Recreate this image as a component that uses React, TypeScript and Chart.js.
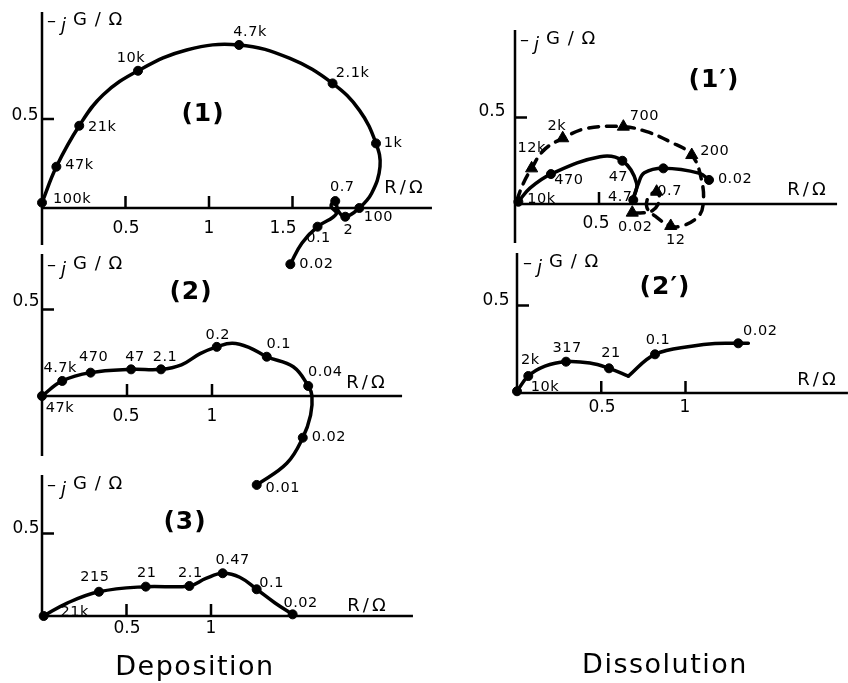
import React, { useEffect, useRef } from "react";
import { Chart, registerables } from "chart.js";

Chart.register(...registerables);

const FONT = '"DejaVu Sans", "Liberation Sans", sans-serif';

// ---------------- DATA (R/Ω on x, −jG/Ω on y) ----------------
// Panel (1) deposition
const P1_LABELS = ["100k", "47k", "21k", "10k", "4.7k", "2.1k", "1k", "100", "2", "0.7", "0.1", "0.02"];
const P1_R = [0, 0.086, 0.223, 0.575, 1.18, 1.74, 2.0, 1.9, 1.816, 1.756, 1.65, 1.487];
const P1_G = [0.03, 0.232, 0.462, 0.771, 0.916, 0.7, 0.363, 0.0, -0.049, 0.039, -0.105, -0.316];
const P1_CURVE_R = [0, 0.086, 0.223, 0.365, 0.575, 0.866, 1.18, 1.485, 1.74, 1.9, 2.0, 2.024, 1.974, 1.9, 1.816, 1.774, 1.756, 1.731, 1.762, 1.65, 1.556, 1.487];
const P1_CURVE_G = [0.03, 0.232, 0.462, 0.635, 0.771, 0.888, 0.916, 0.84, 0.7, 0.55, 0.363, 0.232, 0.083, 0.0, -0.049, -0.017, 0.039, 0.011, -0.034, -0.105, -0.198, -0.316];

// Panel (2) deposition
const P2_LABELS = ["47k", "4.7k", "470", "47", "2.1", "0.2", "0.1", "0.04", "0.02", "0.01"];
const P2_R = [0, 0.119, 0.286, 0.524, 0.7, 1.028, 1.322, 1.566, 1.534, 1.263];
const P2_G = [0, 0.087, 0.135, 0.154, 0.154, 0.284, 0.227, 0.058, -0.241, -0.514];
const P2_CURVE_R = [0, 0.119, 0.286, 0.524, 0.7, 0.82, 0.93, 1.028, 1.12, 1.22, 1.322, 1.478, 1.566, 1.588, 1.58, 1.534, 1.44, 1.263];
const P2_CURVE_G = [0, 0.087, 0.135, 0.154, 0.154, 0.18, 0.245, 0.284, 0.305, 0.28, 0.227, 0.169, 0.058, 0, -0.11, -0.241, -0.389, -0.514];

// Panel (3) deposition
const P3_LABELS = ["21k", "215", "21", "2.1", "0.47", "0.1", "0.02"];
const P3_R = [0.01, 0.337, 0.614, 0.872, 1.069, 1.27, 1.483];
const P3_G = [0, 0.147, 0.178, 0.182, 0.259, 0.162, 0.01];
const P3_CURVE_R = [0.01, 0.146, 0.337, 0.614, 0.872, 0.97, 1.069, 1.17, 1.27, 1.379, 1.483];
const P3_CURVE_G = [0, 0.077, 0.147, 0.178, 0.182, 0.228, 0.259, 0.235, 0.162, 0.079, 0.01];

// Panel (1') dissolution — solid (circles)
const P1S_LABELS = ["10k", "470", "47", "4.7", "", "0.02"];
const P1S_R = [0.02, 0.214, 0.639, 0.704, 0.883, 1.155];
const P1S_G = [0.013, 0.173, 0.25, 0.023, 0.206, 0.139];
const P1S_CURVE_A_R = [0.02, 0.089, 0.214, 0.506, 0.639, 0.724, 0.7];
const P1S_CURVE_A_G = [0.013, 0.092, 0.173, 0.273, 0.25, 0.12, 0.02];
const P1S_CURVE_B_R = [0.7, 0.735, 0.77, 0.883, 1.1, 1.155];
const P1S_CURVE_B_G = [0.02, 0.12, 0.18, 0.206, 0.177, 0.139];

// Panel (1') dissolution — dashed (triangles)
const P1D_LABELS = ["12k", "2k", "700", "200", "12", "0.7", "0.02"];
const P1D_R = [0.099, 0.284, 0.645, 1.052, 0.927, 0.843, 0.698];
const P1D_G = [0.206, 0.38, 0.447, 0.283, -0.127, 0.071, -0.05];
const P1D_CURVE_R = [0.01, 0.05, 0.099, 0.17, 0.284, 0.427, 0.645, 0.784, 0.923, 1.052, 1.11, 1.12, 1.09, 1.0, 0.927, 0.833, 0.785, 0.795, 0.843, 0.86, 0.815, 0.744, 0.698];
const P1D_CURVE_G = [0.02, 0.12, 0.206, 0.31, 0.38, 0.437, 0.447, 0.418, 0.36, 0.283, 0.14, 0.0, -0.073, -0.125, -0.127, -0.069, -0.02, 0.04, 0.071, 0.02, -0.04, -0.052, -0.05];

// Panel (2') dissolution
const P2P_LABELS = ["10k", "2k", "317", "21", "0.1", "0.02"];
const P2P_R = [0, 0.067, 0.291, 0.546, 0.819, 1.313];
const P2P_G = [0.01, 0.097, 0.179, 0.141, 0.221, 0.284];
const P2P_CURVE_A_R = [0, 0.067, 0.166, 0.291, 0.433, 0.546, 0.661];
const P2P_CURVE_A_G = [0.01, 0.097, 0.154, 0.179, 0.171, 0.141, 0.097];
const P2P_CURVE_B_R = [0.661, 0.819, 1.046, 1.175, 1.313, 1.373];
const P2P_CURVE_B_G = [0.097, 0.221, 0.269, 0.283, 0.284, 0.284];

// Tick values
const X_TICKS_1 = [0.5, 1, 1.5];
const X_TICKS_2 = [0.5, 1];
const X_TICKS_1P = [0.5];
const Y_TICKS = [0.5];

// ---------------- LAYOUT (label offsets in px) ----------------
const P1_LBL_OFF = [[30, -3], [23, -1], [23, 1], [-7, -13], [11, -13], [20, -10], [17, 0], [19, 9], [3, 14], [7, -14], [1, 12], [26, 0]];
const P2_LBL_OFF = [[18, 12], [-2, -13], [3, -15], [4, -12], [4, -12], [1, -12], [12, -12], [17, -14], [26, 0], [26, 3]];
const P3_LBL_OFF = [[31, -4], [-4, -15], [1, -13], [1, -13], [10, -13], [15, -6], [8, -11]];
const P1S_LBL_OFF = [[23, -3], [18, 6], [-4, 16], [-13, -3], [0, 0], [26, -1]];
const P1D_LBL_OFF = [[0, -20], [-6, -12], [21, -10], [23, -4], [5, 14], [13, 0], [3, 15]];
const P2P_LBL_OFF = [[28, -4], [2, -16], [1, -13], [2, -15], [3, -14], [22, -12]];

type Pt = { x: number; y: number };
const zip = (r: number[], g: number[]): Pt[] => r.map((x, i) => ({ x, y: g[i] }));

interface SeriesCfg {
  r: number[];
  g: number[];
  labels: string[];
  offsets: number[][];
  curves: { r: number[]; g: number[] }[];
  pointStyle: "circle" | "triangle";
  radius: number;
  dashed?: boolean;
}

interface TextCfg {
  text: string;
  x: number;
  y: number;
}

interface PanelCfg {
  left: number;
  top: number;
  width: number;
  height: number;
  ox: number;
  oy: number;
  sx: number;
  sy: number;
  xAxisEnd: number;
  yAxisTop: number;
  yAxisBottom: number;
  xTicks: number[];
  yTicks: number[];
  tickLabels: TextCfg[];
  yTitle: { x: number; y: number };
  xTitle: { x: number; y: number };
  title: TextCfg;
  caption?: TextCfg;
  series: SeriesCfg[];
}

const PANELS: PanelCfg[] = [
  {
    left: 0, top: 0, width: 440, height: 278, ox: 42, oy: 208, sx: 167, sy: 178,
    xAxisEnd: 2.335, yAxisTop: 1.101, yAxisBottom: -0.208,
    xTicks: X_TICKS_1, yTicks: Y_TICKS,
    tickLabels: [
      { text: "0.5", x: 126, y: 229 }, { text: "1", x: 209, y: 229 },
      { text: "1.5", x: 283, y: 229 }, { text: "0.5", x: 25, y: 116 },
    ],
    yTitle: { x: 46, y: 21 }, xTitle: { x: 405, y: 188 },
    title: { text: "(1)", x: 203, y: 114 },
    series: [
      { r: P1_R, g: P1_G, labels: P1_LABELS, offsets: P1_LBL_OFF, curves: [{ r: P1_CURVE_R, g: P1_CURVE_G }], pointStyle: "circle", radius: 4.5 },
    ],
  },
  {
    left: 0, top: 245, width: 440, height: 250, ox: 42, oy: 396, sx: 170, sy: 173,
    xAxisEnd: 2.118, yAxisTop: 0.821, yAxisBottom: -0.347,
    xTicks: X_TICKS_2, yTicks: Y_TICKS,
    tickLabels: [
      { text: "0.5", x: 126, y: 417 }, { text: "1", x: 212, y: 417 }, { text: "0.5", x: 26, y: 302 },
    ],
    yTitle: { x: 46, y: 265 }, xTitle: { x: 367, y: 383 },
    title: { text: "(2)", x: 191, y: 292 },
    series: [
      { r: P2_R, g: P2_G, labels: P2_LABELS, offsets: P2_LBL_OFF, curves: [{ r: P2_CURVE_R, g: P2_CURVE_G }], pointStyle: "circle", radius: 4.5 },
    ],
  },
  {
    left: 0, top: 465, width: 440, height: 218, ox: 42, oy: 616, sx: 169, sy: 165,
    xAxisEnd: 2.195, yAxisTop: 0.855, yAxisBottom: 0,
    xTicks: X_TICKS_2, yTicks: Y_TICKS,
    tickLabels: [
      { text: "0.5", x: 127, y: 629 }, { text: "1", x: 211, y: 629 }, { text: "0.5", x: 26, y: 529 },
    ],
    yTitle: { x: 46, y: 485 }, xTitle: { x: 368, y: 606 },
    title: { text: "(3)", x: 185, y: 522 },
    caption: { text: "Deposition", x: 195, y: 675 },
    series: [
      { r: P3_R, g: P3_G, labels: P3_LABELS, offsets: P3_LBL_OFF, curves: [{ r: P3_CURVE_R, g: P3_CURVE_G }], pointStyle: "circle", radius: 4.5 },
    ],
  },
  {
    left: 440, top: 0, width: 408, height: 255, ox: 515, oy: 204, sx: 168, sy: 173,
    xAxisEnd: 1.917, yAxisTop: 1.006, yAxisBottom: -0.225,
    xTicks: X_TICKS_1P, yTicks: Y_TICKS,
    tickLabels: [
      { text: "0.5", x: 596, y: 224 }, { text: "0.5", x: 492, y: 112 },
    ],
    yTitle: { x: 519, y: 40 }, xTitle: { x: 808, y: 190 },
    title: { text: "(1′)", x: 714, y: 80 },
    series: [
      {
        r: P1S_R, g: P1S_G, labels: P1S_LABELS, offsets: P1S_LBL_OFF,
        curves: [{ r: P1S_CURVE_A_R, g: P1S_CURVE_A_G }, { r: P1S_CURVE_B_R, g: P1S_CURVE_B_G }],
        pointStyle: "circle", radius: 4.5,
      },
      {
        r: P1D_R, g: P1D_G, labels: P1D_LABELS, offsets: P1D_LBL_OFF,
        curves: [{ r: P1D_CURVE_R, g: P1D_CURVE_G }],
        pointStyle: "triangle", radius: 7, dashed: true,
      },
    ],
  },
  {
    left: 440, top: 245, width: 408, height: 438, ox: 517, oy: 393, sx: 168.5, sy: 175,
    xAxisEnd: 1.964, yAxisTop: 0.8, yAxisBottom: -0.01,
    xTicks: X_TICKS_2, yTicks: Y_TICKS,
    tickLabels: [
      { text: "0.5", x: 602, y: 408 }, { text: "1", x: 685, y: 408 }, { text: "0.5", x: 496, y: 301 },
    ],
    yTitle: { x: 522, y: 263 }, xTitle: { x: 818, y: 380 },
    title: { text: "(2′)", x: 665, y: 287 },
    caption: { text: "Dissolution", x: 665, y: 673 },
    series: [
      {
        r: P2P_R, g: P2P_G, labels: P2P_LABELS, offsets: P2P_LBL_OFF,
        curves: [{ r: P2P_CURVE_A_R, g: P2P_CURVE_A_G }, { r: P2P_CURVE_B_R, g: P2P_CURVE_B_G }],
        pointStyle: "circle", radius: 4.5,
      },
    ],
  },
];

function setSpacing(ctx: any, v: string) {
  try {
    ctx.letterSpacing = v;
  } catch (e) {
    /* ignore */
  }
}

function makePlugin(cfg: PanelCfg) {
  return {
    id: "panelDecor",
    beforeDatasetsDraw(chart: any) {
      const ctx = chart.ctx as CanvasRenderingContext2D;
      const xs = chart.scales.x;
      const ys = chart.scales.y;
      const px = (v: number) => xs.getPixelForValue(v);
      const py = (v: number) => ys.getPixelForValue(v);
      ctx.save();
      ctx.strokeStyle = "#000";
      ctx.fillStyle = "#000";
      ctx.lineWidth = 2.5;
      ctx.beginPath();
      ctx.moveTo(px(0), py(cfg.yAxisTop));
      ctx.lineTo(px(0), py(cfg.yAxisBottom));
      ctx.moveTo(px(0), py(0));
      ctx.lineTo(px(cfg.xAxisEnd), py(0));
      for (const t of cfg.xTicks) {
        ctx.moveTo(px(t), py(0));
        ctx.lineTo(px(t), py(0) - 12);
      }
      for (const t of cfg.yTicks) {
        ctx.moveTo(px(0), py(t));
        ctx.lineTo(px(0) + 12, py(t));
      }
      ctx.stroke();

      const L = cfg.left;
      const T = cfg.top;
      ctx.textBaseline = "middle";
      ctx.textAlign = "center";
      // tick labels
      ctx.font = `17px ${FONT}`;
      setSpacing(ctx, "0px");
      for (const t of cfg.tickLabels) ctx.fillText(t.text, t.x - L, t.y - T);
      // x title
      ctx.font = `18px ${FONT}`;
      setSpacing(ctx, "3px");
      ctx.fillText("R/Ω", cfg.xTitle.x - L, cfg.xTitle.y - T);
      // y title
      ctx.textAlign = "left";
      setSpacing(ctx, "0px");
      const yx = cfg.yTitle.x - L;
      const yy = cfg.yTitle.y - T;
      ctx.fillText("–", yx + 1, yy);
      ctx.font = `italic 18px ${FONT}`;
      ctx.fillText("j", yx + 15, yy + 5);
      ctx.font = `18px ${FONT}`;
      setSpacing(ctx, "1px");
      ctx.fillText("G / Ω", yx + 27, yy - 1);
      // panel title
      ctx.textAlign = "center";
      setSpacing(ctx, "1px");
      ctx.font = `bold 25px ${FONT}`;
      ctx.fillText(cfg.title.text, cfg.title.x - L, cfg.title.y - T);
      // caption
      if (cfg.caption) {
        ctx.textBaseline = "alphabetic";
        ctx.font = `27px ${FONT}`;
        setSpacing(ctx, "1.5px");
        ctx.fillText(cfg.caption.text, cfg.caption.x - L, cfg.caption.y - T);
      }
      ctx.restore();
    },
    afterDatasetsDraw(chart: any) {
      const ctx = chart.ctx as CanvasRenderingContext2D;
      ctx.save();
      ctx.fillStyle = "#000";
      ctx.textAlign = "center";
      ctx.textBaseline = "middle";
      ctx.font = `14.5px ${FONT}`;
      setSpacing(ctx, "0.5px");
      cfg.series.forEach((s, i) => {
        const meta = chart.getDatasetMeta(i);
        s.labels.forEach((lab, j) => {
          if (!lab) return;
          const el = meta.data[j];
          if (!el) return;
          const off = s.offsets[j] || [0, 0];
          ctx.fillText(lab, el.x + off[0], el.y + off[1]);
        });
      });
      ctx.restore();
    },
  };
}

function Panel({ cfg }: { cfg: PanelCfg }) {
  const ref = useRef<HTMLCanvasElement | null>(null);
  useEffect(() => {
    const canvas = ref.current;
    if (!canvas) return;
    const xmin = -(cfg.ox - cfg.left) / cfg.sx;
    const xmax = xmin + cfg.width / cfg.sx;
    const ymax = (cfg.oy - cfg.top) / cfg.sy;
    const ymin = ymax - cfg.height / cfg.sy;
    const datasets: any[] = [];
    cfg.series.forEach((s) => {
      datasets.push({
        data: zip(s.r, s.g),
        showLine: false,
        pointStyle: s.pointStyle,
        pointRadius: s.radius,
        pointHoverRadius: s.radius,
        pointBackgroundColor: "#000",
        pointBorderColor: "#000",
        pointBorderWidth: 1,
        clip: false,
      });
    });
    cfg.series.forEach((s) => {
      s.curves.forEach((c) => {
        datasets.push({
          data: zip(c.r, c.g),
          showLine: true,
          borderColor: "#000",
          borderWidth: 3.5,
          borderDash: s.dashed ? [10, 8] : [],
          borderCapStyle: "round",
          borderJoinStyle: "round",
          pointRadius: 0,
          pointHoverRadius: 0,
          tension: 0.4,
          clip: false,
        });
      });
    });
    const chart = new Chart(canvas, {
      type: "scatter",
      data: { datasets },
      options: {
        animation: false,
        responsive: false,
        maintainAspectRatio: false,
        events: [],
        layout: { padding: 0, autoPadding: false },
        plugins: {
          legend: { display: false },
          tooltip: { enabled: false },
          title: { display: false },
        },
        scales: {
          x: { type: "linear", display: false, min: xmin, max: xmax },
          y: { type: "linear", display: false, min: ymin, max: ymax },
        },
      } as any,
      plugins: [makePlugin(cfg)],
    });
    return () => chart.destroy();
  }, [cfg]);
  return (
    <canvas
      ref={ref}
      width={cfg.width}
      height={cfg.height}
      style={{ position: "absolute", left: cfg.left, top: cfg.top, width: cfg.width, height: cfg.height }}
    />
  );
}

export default function App() {
  return (
    <div style={{ position: "absolute", left: 0, top: 0, width: 848, height: 683, background: "#fff" }}>
      {PANELS.map((p, i) => (
        <Panel key={i} cfg={p} />
      ))}
    </div>
  );
}
